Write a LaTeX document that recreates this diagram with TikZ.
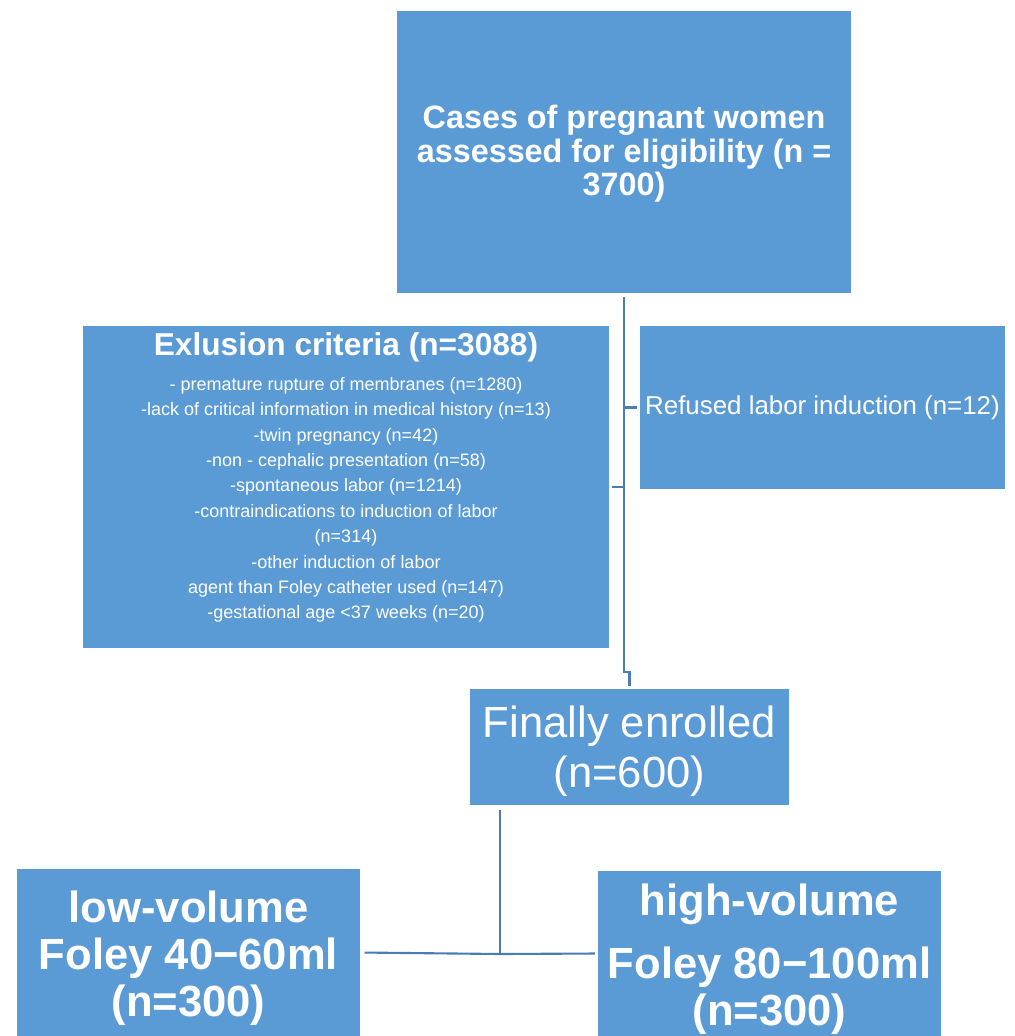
\documentclass[tikz,border=0pt]{standalone}
\usepackage{fontspec}
\setmainfont{Liberation Sans}
\usepackage{tikz}
\usetikzlibrary{calc}
\definecolor{boxblue}{HTML}{5B9BD5}
\definecolor{lineblue}{HTML}{4A7DB3}
\newcommand{\pxu}{0.025cm}

\begin{document}
\begin{tikzpicture}[x=0.025cm,y=-0.025cm,
    box/.style={fill=boxblue,text=white,align=center,inner sep=0pt},
    link/.style={draw=lineblue,line width=1.9pt}]
\useasboundingbox (0,0) rectangle (1014,1036);
\node[box,minimum width=454*\pxu,minimum height=282*\pxu,
    font=\fontsize{23}{24}\selectfont\bfseries] (cases) at (624,152)
    {\rule{0pt}{19pt}Cases of pregnant women\\ assessed for eligibility (n =\\ 3700)};
\node[box,minimum width=526*\pxu,minimum height=322*\pxu] (excl) at (346,487){};
\node[text=white,inner sep=0pt,font=\fontsize{22.5}{24}\selectfont\bfseries] (crittitle) at (346,347)
    {Exlusion criteria (n=3088)};
\node[text=white,align=center,inner sep=0pt,font=\fontsize{12.8}{18.05}\selectfont] (critlist) at (346,500)
    {- premature rupture of membranes (n=1280)\\
     -lack of critical information in medical history (n=13)\\
     -twin pregnancy (n=42)\\
     -non - cephalic presentation (n=58)\\
     -spontaneous labor (n=1214)\\
     -contraindications to induction of labor\\
     (n=314)\\
     -other induction of labor\\
     agent than Foley catheter used (n=147)\\
     -gestational age <37 weeks (n=20)};
\node[box,minimum width=365*\pxu,minimum height=163*\pxu,
    font=\fontsize{18.4}{20}\selectfont] (refused) at (822.5,407.5)
    {Refused labor induction (n=12)};
\node[box,minimum width=319*\pxu,minimum height=116*\pxu,
    font=\fontsize{31}{35.5}\selectfont] (enrolled) at (629.5,747)
    {\rule{0pt}{29pt}Finally enrolled\\ (n=600)};
\node[box,minimum width=343*\pxu,minimum height=167*\pxu,
    font=\fontsize{31}{33.5}\selectfont\bfseries] (low) at (188.5,952.5)
    {\rule{0pt}{30.5pt}low-volume\\ Foley 40−60ml\\ (n=300)};
\node[box,minimum width=343*\pxu,minimum height=165*\pxu,
    font=\fontsize{31}{33.5}\selectfont\bfseries] (high) at (769.5,953.5)
    {\rule{0pt}{31pt}high-volume\\[11pt] Foley 80−100ml\\ (n=300)};
% connectors
\coordinate (jog) at (624,672);
\coordinate (split) at (500,954);
\draw[link,shorten <=3pt] (cases.south) -- (jog) -| ([yshift=2pt]enrolled.north);
\draw[link,shorten <=2pt] (excl.east) -- (excl.east -| jog);
\draw[link,shorten <=2pt] (refused.west) -- (refused.west -| jog);
\draw[link,line width=1.5pt,shorten <=3pt] (split |- enrolled.south) -- (split);
\draw[link,line width=1.5pt,shorten <=3pt,shorten >=2pt] (low.east) -- (split) -- (high.west);
\end{tikzpicture}
\end{document}
